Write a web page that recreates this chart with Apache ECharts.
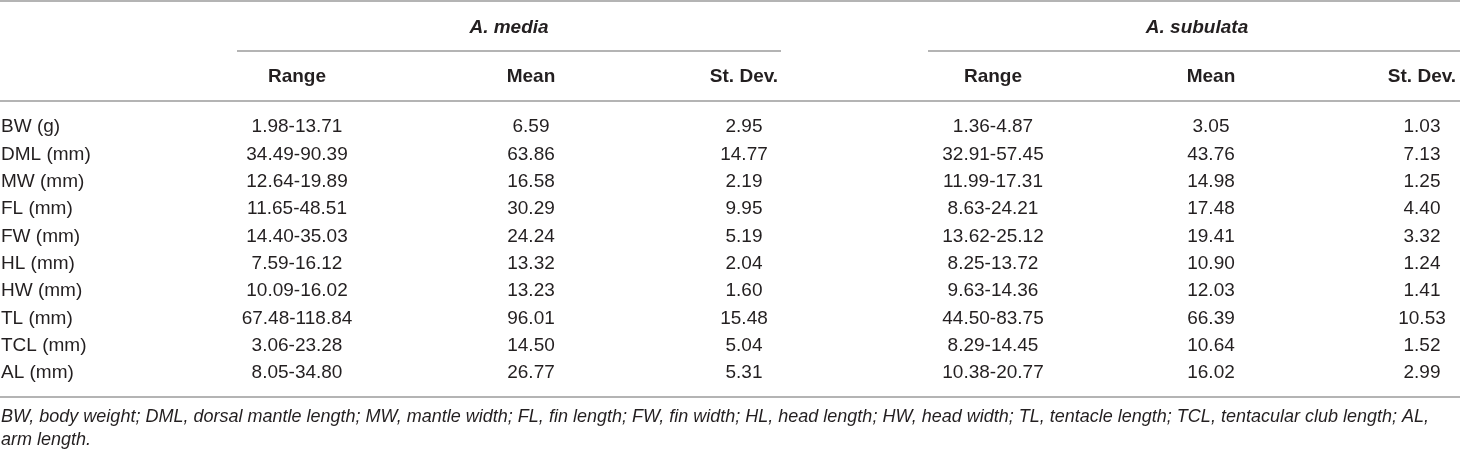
<!DOCTYPE html>
<html lang="en">
<head>
<meta charset="UTF-8">
<title>Morphometric measurements</title>
<script src="https://cdn.jsdelivr.net/npm/echarts@6/dist/echarts.min.js"></script>
<style>
  html, body { margin: 0; padding: 0; background: #fff; }
  #main { width: 1460px; height: 454px; }
</style>
</head>
<body>
<div id="main"></div>
<script>
// table data
var rowLabels = ['BW (g)', 'DML (mm)', 'MW (mm)', 'FL (mm)', 'FW (mm)', 'HL (mm)', 'HW (mm)', 'TL (mm)', 'TCL (mm)', 'AL (mm)'];
var species = ['A. media', 'A. subulata'];
var statHeads = ['Range', 'Mean', 'St. Dev.'];

var mediaRange = [[1.98, 13.71], [34.49, 90.39], [12.64, 19.89], [11.65, 48.51], [14.40, 35.03],
                  [7.59, 16.12], [10.09, 16.02], [67.48, 118.84], [3.06, 23.28], [8.05, 34.80]];
var mediaMean = [6.59, 63.86, 16.58, 30.29, 24.24, 13.32, 13.23, 96.01, 14.50, 26.77];
var mediaSd = [2.95, 14.77, 2.19, 9.95, 5.19, 2.04, 1.60, 15.48, 5.04, 5.31];

var subRange = [[1.36, 4.87], [32.91, 57.45], [11.99, 17.31], [8.63, 24.21], [13.62, 25.12],
                [8.25, 13.72], [9.63, 14.36], [44.50, 83.75], [8.29, 14.45], [10.38, 20.77]];
var subMean = [3.05, 43.76, 14.98, 17.48, 19.41, 10.90, 12.03, 66.39, 10.64, 16.02];
var subSd = [1.03, 7.13, 1.25, 4.40, 3.32, 1.24, 1.41, 10.53, 1.52, 2.99];

var footnote = [
  'BW, body weight; DML, dorsal mantle length; MW, mantle width; FL, fin length; FW, fin width; HL, head length; HW, head width; TL, tentacle length; TCL, tentacular club length; AL,',
  'arm length.'
];

// layout
var W = 1460, H = 454;
var colX = [297, 531, 744, 993, 1211, 1422];
var speciesX = [509, 1197];
var rowTop = 127, rowStep = 27.35;
var FAMILY = '"Liberation Sans", Arial, sans-serif';

var cells = [];
function cell(x, y, text, style, align, size) {
  cells.push({ x: x, y: y, text: text, style: style || '', align: align || 'center', size: size || 19 });
}
function fmtRange(r) { return r[0].toFixed(2) + '-' + r[1].toFixed(2); }

species.forEach(function (s, i) { cell(speciesX[i], 28, s, 'bold italic'); });
statHeads.concat(statHeads).forEach(function (h, i) { cell(colX[i], 77, h, 'bold'); });

rowLabels.forEach(function (lab, r) {
  var y = rowTop + r * rowStep;
  cell(1, y, lab, '', 'left');
  var vals = [fmtRange(mediaRange[r]), mediaMean[r].toFixed(2), mediaSd[r].toFixed(2),
              fmtRange(subRange[r]), subMean[r].toFixed(2), subSd[r].toFixed(2)];
  vals.forEach(function (v, c) { cell(colX[c], y, v); });
});

footnote.forEach(function (t, i) { cell(1, 417 + i * 23, t, 'italic', 'left', 18); });

// horizontal rules: [x1, y, x2]
var rules = [[0, 1, W], [237, 51, 781], [928, 51, W], [0, 101, W], [0, 397, W]];

var myChart = echarts.init(document.getElementById('main'));
var option = {
  animation: false,
  backgroundColor: '#fff',
  grid: { left: 0, right: 0, top: 0, bottom: 0 },
  xAxis: { type: 'value', min: 0, max: W, show: false },
  yAxis: { type: 'value', min: 0, max: H, inverse: true, show: false },
  series: [{
    type: 'custom',
    clip: false,
    data: rules.map(function (l) { return [l[0], l[1], l[2]]; }),
    renderItem: function (params, api) {
      var l = rules[params.dataIndex];
      var a = api.coord([l[0], l[1]]);
      var b = api.coord([l[2], l[1]]);
      return {
        type: 'line',
        shape: { x1: a[0], y1: a[1], x2: b[0], y2: b[1] },
        style: { stroke: '#9b9b9b', lineWidth: 1.5 }
      };
    }
  }, {
    type: 'custom',
    clip: false,
    data: cells.map(function (c) { return [c.x, c.y]; }),
    renderItem: function (params, api) {
      var c = cells[params.dataIndex];
      var p = api.coord([c.x, c.y]);
      return {
        type: 'text',
        x: p[0],
        y: p[1],
        style: {
          text: c.text,
          fill: '#231f20',
          font: (c.style ? c.style + ' ' : '') + c.size + 'px ' + FAMILY,
          align: c.align,
          verticalAlign: 'middle'
        }
      };
    }
  }]
};
myChart.setOption(option);
</script>
</body>
</html>
